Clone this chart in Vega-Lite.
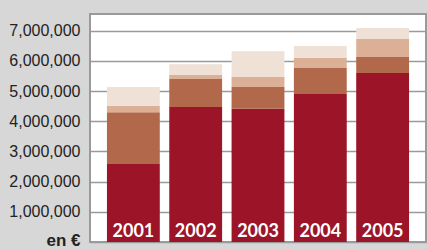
{
  "$schema": "https://vega.github.io/schema/vega-lite/v6.json",
  "width": 336,
  "height": 228,
  "autosize": {"type": "none"},
  "padding": {"left": 90, "top": 14, "right": 2, "bottom": 7},
  "background": "#D7D7D7",
  "view": {"fill": "#FFFFFF", "stroke": "#9A9A9A", "strokeWidth": 2},
  "config": {
    "axisY": {
      "values": [0, 1000000, 2000000, 3000000, 4000000, 5000000, 6000000, 7000000],
      "title": null, "domain": false, "ticks": false,
      "labelOverlap": false,
      "labelFont": "Liberation Sans", "labelFontSize": 16, "labelColor": "#222222",
      "labelPadding": 10,
      "gridColor": "#9A9A9A", "gridWidth": 1.5, "gridOpacity": 1
    }
  },
  "data": {"values": [
    {"year": "2001", "cat": "A", "k": 1, "v": 2580000},
    {"year": "2001", "cat": "B", "k": 2, "v": 1720000},
    {"year": "2001", "cat": "C", "k": 3, "v": 200000},
    {"year": "2001", "cat": "D", "k": 4, "v": 630000},
    {"year": "2002", "cat": "A", "k": 1, "v": 4470000},
    {"year": "2002", "cat": "B", "k": 2, "v": 930000},
    {"year": "2002", "cat": "C", "k": 3, "v": 130000},
    {"year": "2002", "cat": "D", "k": 4, "v": 360000},
    {"year": "2003", "cat": "A", "k": 1, "v": 4410000},
    {"year": "2003", "cat": "B", "k": 2, "v": 720000},
    {"year": "2003", "cat": "C", "k": 3, "v": 330000},
    {"year": "2003", "cat": "D", "k": 4, "v": 860000},
    {"year": "2004", "cat": "A", "k": 1, "v": 4900000},
    {"year": "2004", "cat": "B", "k": 2, "v": 860000},
    {"year": "2004", "cat": "C", "k": 3, "v": 330000},
    {"year": "2004", "cat": "D", "k": 4, "v": 400000},
    {"year": "2005", "cat": "A", "k": 1, "v": 5600000},
    {"year": "2005", "cat": "B", "k": 2, "v": 530000},
    {"year": "2005", "cat": "C", "k": 3, "v": 590000},
    {"year": "2005", "cat": "D", "k": 4, "v": 370000}
  ]},
  "encoding": {
    "x": {"field": "year", "type": "nominal",
      "scale": {"paddingInner": 0.152, "paddingOuter": 0.272},
      "axis": null}
  },
  "layer": [
    {
      "mark": {"type": "bar"},
      "encoding": {
        "y": {"field": "v", "type": "quantitative", "stack": "zero",
          "scale": {"domain": [0, 7550000], "nice": false},
          "axis": {
            "values": [0, 1000000, 2000000, 3000000, 4000000, 5000000, 6000000, 7000000],
            "labelExpr": "datum.value == 0 ? 'en €' : format(datum.value, ',')",
            "labelFontWeight": {"condition": {"test": "datum.value == 0", "value": "bold"}, "value": "normal"},
            "labelFontSize": {"condition": {"test": "datum.value == 0", "value": 17}, "value": 16},
            "labelOffset": {"condition": {"test": "datum.value == 0", "value": -2}, "value": 0}
          }},
        "color": {"field": "cat", "type": "nominal", "legend": null,
          "scale": {"domain": ["A", "B", "C", "D"], "range": ["#9B1428", "#B2684A", "#DBB096", "#EFE1D6"]}},
        "order": {"field": "k", "type": "quantitative"}
      }
    },
    {
      "transform": [{"filter": "datum.k == 1"}],
      "mark": {"type": "text", "color": "#FFFFFF", "font": "Lato", "fontWeight": "bold", "fontSize": 18, "baseline": "alphabetic", "dy": -5},
      "encoding": {
        "y": {"datum": 0, "type": "quantitative",
          "axis": {
            "values": [0, 1000000, 2000000, 3000000, 4000000, 5000000, 6000000, 7000000],
            "labelExpr": "datum.value == 0 ? 'en €' : format(datum.value, ',')",
            "labelFontWeight": {"condition": {"test": "datum.value == 0", "value": "bold"}, "value": "normal"},
            "labelFontSize": {"condition": {"test": "datum.value == 0", "value": 17}, "value": 16},
            "labelOffset": {"condition": {"test": "datum.value == 0", "value": -2}, "value": 0}
          }},
        "text": {"field": "year"}
      }
    }
  ]
}
